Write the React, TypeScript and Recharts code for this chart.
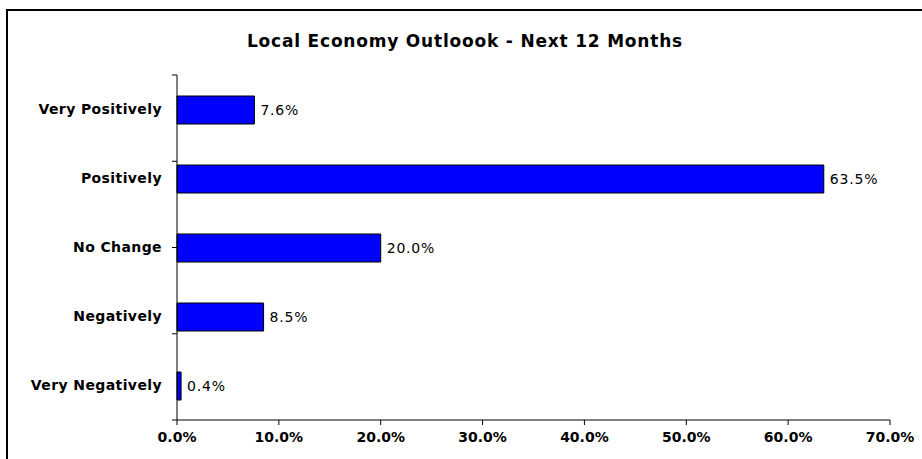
import React from 'react';
import { BarChart, Bar, XAxis, YAxis, LabelList } from 'recharts';

const categories = ['Very Positively', 'Positively', 'No Change', 'Negatively', 'Very Negatively'];
const shares = [7.6, 63.5, 20.0, 8.5, 0.4];
const xTicks = [0, 10, 20, 30, 40, 50, 60, 70];
const boundaryTicks = [0, 1, 2, 3, 4, 5];

const data = categories.map((name, i) => ({ name, value: shares[i] }));

const FONT = '"DejaVu Sans", Verdana, sans-serif';

const NoLabel = () => <g />;

export default function App() {
  return (
    <div style={{ position: 'absolute', left: 0, top: 0, width: 922, height: 459, background: '#fff', overflow: 'hidden' }}>
      <div
        style={{
          position: 'absolute',
          left: 6,
          top: 9,
          width: 930,
          height: 470,
          border: '2px solid #000',
          boxSizing: 'border-box',
        }}
      />
      <div
        style={{
          position: 'absolute',
          left: 0,
          top: 30,
          width: 930,
          textAlign: 'center',
          fontFamily: FONT,
          fontWeight: 'bold',
          fontSize: 17,
          lineHeight: '22px',
          letterSpacing: 0.8,
          color: '#000',
        }}
      >
        Local Economy Outloook - Next 12 Months
      </div>
      <div style={{ position: 'absolute', left: 0, top: 0 }}>
        <BarChart
          width={922}
          height={459}
          data={data}
          layout="vertical"
          margin={{ top: 75, right: 32, left: 16, bottom: 9 }}
          barSize={28}
        >
          <YAxis
            yAxisId="bounds"
            type="number"
            domain={[0, 5]}
            ticks={boundaryTicks}
            width={1}
            axisLine={{ stroke: '#000' }}
            tickLine={{ stroke: '#000' }}
            tickSize={5}
            tick={NoLabel}
          />
          <YAxis
            yAxisId="cat"
            type="category"
            dataKey="name"
            width={160}
            axisLine={false}
            tickLine={false}
            tickSize={0}
            tickMargin={14}
            tick={{ fill: '#000', fontFamily: FONT, fontWeight: 'bold', fontSize: 14, letterSpacing: 0.4 }}
          />
          <XAxis
            type="number"
            domain={[0, 70]}
            ticks={xTicks}
            height={30}
            axisLine={{ stroke: '#000' }}
            tickLine={{ stroke: '#000' }}
            tickSize={5}
            tickMargin={7}
            tickFormatter={(v: number) => `${v.toFixed(1)}%`}
            tick={{ fill: '#000', fontFamily: FONT, fontWeight: 'bold', fontSize: 14 }}
          />
          <Bar
            yAxisId="cat"
            dataKey="value"
            fill="#0000FF"
            stroke="#000"
            strokeWidth={1}
            isAnimationActive={false}
          >
            <LabelList
              dataKey="value"
              position="right"
              offset={6}
              formatter={(v: number) => `${Number(v).toFixed(1)}%`}
              style={{ fill: '#000', fontFamily: FONT, fontSize: 14, letterSpacing: 0.8 }}
            />
          </Bar>
        </BarChart>
      </div>
    </div>
  );
}
